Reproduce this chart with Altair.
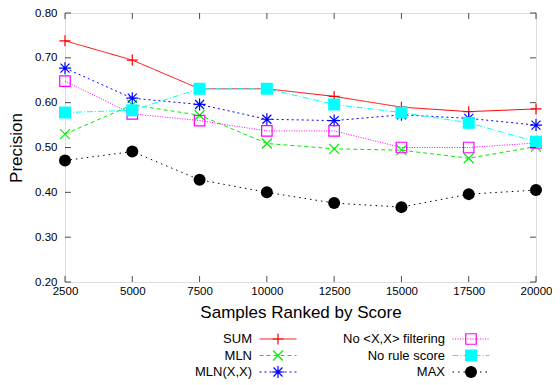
import altair as alt
import pandas as pd

samples = [2500, 5000, 7500, 10000, 12500, 15000, 17500, 20000]
series_names = ["SUM", "MLN", "MLN(X,X)", "No <X,X> filtering", "No rule score", "MAX"]
sum_vals = [0.738, 0.695, 0.631, 0.631, 0.614, 0.590, 0.580, 0.586]
mln_vals = [0.530, 0.595, 0.572, 0.509, 0.497, 0.494, 0.476, 0.502]
mlnxx_vals = [0.677, 0.610, 0.596, 0.563, 0.560, 0.573, 0.565, 0.550]
nofilt_vals = [0.648, 0.575, 0.560, 0.537, 0.537, 0.500, 0.500, 0.510]
norule_vals = [0.578, 0.583, 0.631, 0.631, 0.596, 0.578, 0.555, 0.513]
max_vals = [0.471, 0.491, 0.428, 0.400, 0.376, 0.367, 0.396, 0.405]
y_ticks = [0.20, 0.30, 0.40, 0.50, 0.60, 0.70, 0.80]

values = [sum_vals, mln_vals, mlnxx_vals, nofilt_vals, norule_vals, max_vals]

PLUS = "M-1,0L1,0M0,-1L0,1"
XMARK = "M-1,-1L1,1M-1,1L1,-1"
STAR = "M-1,0L1,0M0,-1L0,1M-0.75,-0.75L0.75,0.75M-0.75,0.75L0.75,-0.75"
HLINE = "M-1,0L1,0"

styles = {
    "SUM": dict(color="#ff0000", dash=[1, 0], shape=PLUS, filled=False, size=121),
    "MLN": dict(color="#00ee00", dash=[4, 3], shape=XMARK, filled=False, size=100),
    "MLN(X,X)": dict(color="#0000ff", dash=[2, 3], shape=STAR, filled=False, size=144),
    "No <X,X> filtering": dict(color="#ff00ff", dash=[1, 1.5], shape="square", filled=False, size=110),
    "No rule score": dict(color="#00ffff", dash=[6, 2, 1, 2], shape="square", filled=True, size=144),
    "MAX": dict(color="#000000", dash=[1.5, 4], shape="circle", filled=True, size=144),
}
legend_col = [0, 0, 0, 1, 1, 1]
legend_row = [0, 1, 2, 0, 1, 2]

W, H = 471, 269
PAD_L, PAD_T = 57, 5
FONT = "Liberation Sans"

xscale = alt.Scale(domain=[2500, 20000], nice=False, zero=False)
yscale = alt.Scale(domain=[0.2, 0.8], nice=False, zero=False)

layers = []
for name, vals in zip(series_names, values):
    st = styles[name]
    df = pd.DataFrame({"x": samples, "y": vals})
    base = alt.Chart(df)
    line = base.mark_line(color=st["color"], strokeWidth=1, strokeDash=st["dash"]).encode(
        x=alt.X("x:Q", scale=xscale), y=alt.Y("y:Q", scale=yscale)
    )
    if st["filled"]:
        pt = base.mark_point(shape=st["shape"], size=st["size"], filled=True,
                             fill=st["color"], stroke=st["color"], strokeWidth=0, opacity=1)
    else:
        pt = base.mark_point(shape=st["shape"], size=st["size"], filled=False,
                             stroke=st["color"], strokeWidth=1.2, opacity=1)
    pt = pt.encode(x=alt.X("x:Q", scale=xscale), y=alt.Y("y:Q", scale=yscale))
    layers.append(line)
    layers.append(pt)

# axes layer (labels + titles), no ticks
axes = alt.Chart(pd.DataFrame({"x": [samples[0]], "y": [y_ticks[0]]})).mark_point(opacity=0).encode(
    x=alt.X("x:Q", scale=xscale, title="Samples Ranked by Score",
            axis=alt.Axis(values=samples, format="d", ticks=False, domain=False, grid=False,
                          labelPadding=3, titlePadding=8, labelFontSize=11.5, titleFontSize=17,
                          labelFont=FONT, titleFont=FONT, titleFontWeight="normal",
                          labelColor="#000", titleColor="#000", labelFlush=False)),
    y=alt.Y("y:Q", scale=yscale, title="Precision",
            axis=alt.Axis(values=y_ticks, format=".2f", ticks=False, domain=False, grid=False,
                          labelPadding=8, titlePadding=9, labelFontSize=11.5, titleFontSize=17,
                          labelFont=FONT, titleFont=FONT, titleFontWeight="normal",
                          labelColor="#000", titleColor="#000")),
)

# inward tick marks
xt = pd.DataFrame({"x": samples})
yt = pd.DataFrame({"y": y_ticks})
tick_len = 6
xticks_bottom = alt.Chart(xt).mark_tick(orient="vertical", size=tick_len, thickness=1, color="black").encode(
    x=alt.X("x:Q", scale=xscale), y=alt.value(H - tick_len / 2))
xticks_top = alt.Chart(xt).mark_tick(orient="vertical", size=tick_len, thickness=1, color="black").encode(
    x=alt.X("x:Q", scale=xscale), y=alt.value(tick_len / 2))
yticks_left = alt.Chart(yt).mark_tick(orient="horizontal", size=tick_len, thickness=1, color="black").encode(
    y=alt.Y("y:Q", scale=yscale), x=alt.value(tick_len / 2))
yticks_right = alt.Chart(yt).mark_tick(orient="horizontal", size=tick_len, thickness=1, color="black").encode(
    y=alt.Y("y:Q", scale=yscale), x=alt.value(W - tick_len / 2))

main = alt.layer(axes, *layers, xticks_bottom, xticks_top, yticks_left, yticks_right)

# custom legend (label, then line sample with symbol)
leg_df = pd.DataFrame({"name": series_names, "col": legend_col, "row": legend_row})
lx = alt.X("col:Q", scale=alt.Scale(domain=[0, 1], range=[252 - 8 - PAD_L, 445 - 8 - PAD_L]), axis=None)
ly = alt.Y("row:Q", scale=alt.Scale(domain=[0, 2], range=[339 - 8 - PAD_T, 372 - 8 - PAD_T]), axis=None)
leg_layers = [
    alt.Chart(leg_df).mark_text(align="right", baseline="middle", fontSize=13, font=FONT,
                                color="#000").encode(x=lx, y=ly, text="name:N")
]
for name, c, r in zip(series_names, legend_col, legend_row):
    st = styles[name]
    d = pd.DataFrame({"col": [c], "row": [r]})
    leg_layers.append(alt.Chart(d).mark_point(shape=HLINE, size=37 * 37, filled=False,
                                              stroke=st["color"], strokeWidth=1, strokeDash=st["dash"],
                                              opacity=1, xOffset=26).encode(x=lx, y=ly))
    if st["filled"]:
        p = alt.Chart(d).mark_point(shape=st["shape"], size=st["size"], filled=True, fill=st["color"],
                                    strokeWidth=0, opacity=1, xOffset=26)
    else:
        p = alt.Chart(d).mark_point(shape=st["shape"], size=st["size"], filled=False,
                                    stroke=st["color"], strokeWidth=1.2, opacity=1, xOffset=26)
    leg_layers.append(p.encode(x=lx, y=ly))
legend = alt.layer(*leg_layers)

chart = alt.layer(main, legend).resolve_scale(x="independent", y="independent").properties(
    width=W, height=H,
    autosize=alt.AutoSizeParams(type="none"),
    padding={"left": PAD_L, "top": PAD_T, "right": 16, "bottom": 97},
).configure_view(stroke="black", strokeWidth=1.5).configure(background="white")

chart.save("out.html", embed_options={"renderer": "svg", "actions": False})
